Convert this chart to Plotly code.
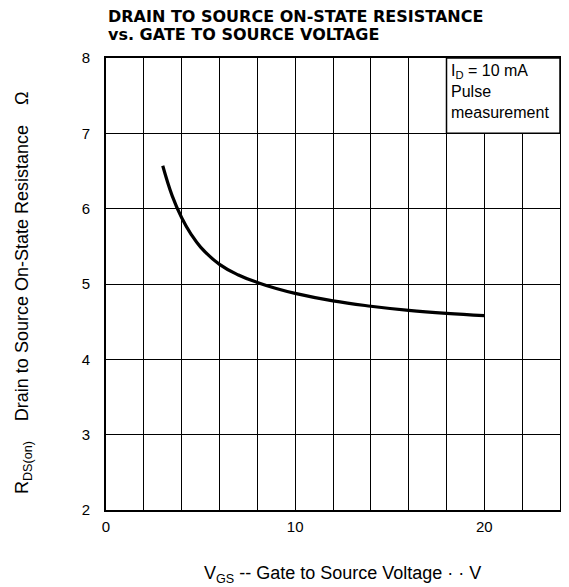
import plotly.graph_objects as go

# Data
vgs = [3.0, 3.5, 4.0, 4.5, 5.0, 6.0, 7.0, 8.0, 9.0, 10.0, 12.0, 14.0, 16.0, 18.0, 20.0]
rds_on = [6.57, 6.17, 5.88, 5.66, 5.49, 5.26, 5.12, 5.02, 4.94, 4.875, 4.775, 4.705, 4.65, 4.61, 4.58]

x_tick_vals = [0, 10, 20]
x_tick_text = ["0", "10", "20"]
y_tick_vals = [2, 3, 4, 5, 6, 7, 8]
y_tick_text = ["2", "3", "4", "5", "6", "7", "8"]

title_line1 = "DRAIN TO SOURCE ON-STATE RESISTANCE"
title_line2 = "vs. GATE TO SOURCE VOLTAGE"
x_title = "V<sub>GS</sub> -- Gate to Source Voltage · · V"
y_title = "R<sub>DS(on)</sub>    Drain to Source On-State Resistance    Ω"
legend_lines = ["I<sub>D</sub> = 10 mA", "Pulse", "measurement"]

fig = go.Figure()
fig.add_trace(go.Scatter(
    x=vgs, y=rds_on, mode="lines",
    line=dict(color="black", width=3.2, shape="spline", smoothing=1.2),
    showlegend=False, hoverinfo="skip",
))

tick_font = dict(family="Liberation Sans, Arial, sans-serif", size=15, color="black")
label_font = dict(family="Liberation Sans, Arial, sans-serif", size=18, color="black")

fig.update_xaxes(
    range=[0, 24], tickvals=x_tick_vals, ticktext=x_tick_text,
    showgrid=True, gridcolor="black", gridwidth=1.3,
    minor=dict(dtick=2, tick0=0, showgrid=True, gridcolor="black", gridwidth=1.3),
    showline=True, mirror=True, linecolor="black", linewidth=2,
    zeroline=False, ticks="", ticklabelstandoff=2, tickfont=tick_font,
)
fig.update_yaxes(
    range=[2, 8], tickvals=y_tick_vals, ticktext=y_tick_text,
    showgrid=True, gridcolor="black", gridwidth=1.3,
    showline=True, mirror=True, linecolor="black", linewidth=2,
    zeroline=False, ticks="", ticklabelstandoff=11, tickfont=tick_font,
)

# Condition box in the top-right cell block
fig.add_shape(type="rect", xref="x", yref="y", x0=18, x1=24, y0=7, y1=8,
              fillcolor="white", line=dict(color="black", width=1.5), layer="above")

fig.add_annotation(
    xref="x", yref="y", x=18.15, y=7.97, xanchor="left", yanchor="top", align="left",
    text="<br>".join(legend_lines), showarrow=False,
    font=dict(family="Liberation Sans, Arial, sans-serif", size=16, color="black"),
)

# Title (two lines, left aligned with the plot)
title_font = dict(family="DejaVu Sans, sans-serif", size=16, color="black", weight="bold")
fig.add_annotation(
    xref="paper", yref="paper", x=0.0, y=1.0, yshift=42, xanchor="left", yanchor="middle",
    text=title_line1, showarrow=False, font=title_font,
)
fig.add_annotation(
    xref="paper", yref="paper", x=0.0, y=1.0, yshift=24, xanchor="left", yanchor="middle",
    text=title_line2, showarrow=False, font=title_font,
)

# Axis titles
fig.add_annotation(
    xref="paper", yref="paper", x=0.52, y=0, yshift=-64, xanchor="center", yanchor="middle",
    text=x_title, showarrow=False, font=label_font,
)
fig.add_annotation(
    xref="paper", yref="paper", x=0, xshift=-83, y=0.48, xanchor="center", yanchor="middle",
    text=y_title, textangle=-90, showarrow=False, font=label_font,
)

fig.update_layout(
    width=561, height=579,
    margin=dict(l=98, r=7, t=50, b=77),
    paper_bgcolor="white", plot_bgcolor="white",
)

fig.write_html("out.html")
